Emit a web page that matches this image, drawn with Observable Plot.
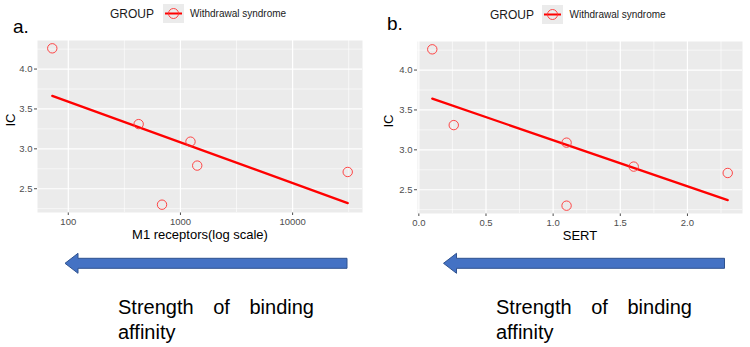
<!DOCTYPE html>
<html>
<head>
<meta charset="utf-8">
<script src="https://cdn.jsdelivr.net/npm/d3@7"></script>
<script src="https://cdn.jsdelivr.net/npm/@observablehq/plot@0.6"></script>
<style>
  body { margin: 0; background: #fff; font-family: "Liberation Sans", Arial, sans-serif; }
  #page { position: relative; width: 750px; height: 347px; overflow: hidden; background: #fff; }
  .abs { position: absolute; white-space: nowrap; }
  .tag { font-size: 19px; line-height: 19px; color: #000; }
  .gtitle { font-size: 12px; line-height: 12px; color: #1a1a1a; }
  .glabel { font-size: 10px; line-height: 10px; color: #1a1a1a; }
  .caption { font-size: 20px; line-height: 25px; width: 196px; white-space: normal;
             text-align: justify; text-align-last: left; color: #000; }
</style>
</head>
<body>
<div id="page"></div>
<script>
// Interference score (IC) per drug, with its M1 and SERT binding constants
const icValues     = [4.26, 3.31, 3.09, 2.79, 2.30, 2.71];
const m1Affinity   = [72, 424, 1229, 1411, 685, 31000];
const sertAffinity = [0.10, 0.26, 1.10, 1.60, 1.10, 2.30];

const m1Ticks   = [100, 1000, 10000];
const sertTicks = [0, 0.5, 1, 1.5, 2];
const icTicks   = [2.5, 3, 3.5, 4];

const groupTitle = "GROUP";
const groupLabel = "Withdrawal syndrome";
const captionText = "Strength of binding affinity";

const FONT = '"Liberation Sans", Arial, sans-serif';
const page = document.getElementById("page");

// ggplot-style 5% padding around the data range
function expand([lo, hi], f = 0.05) {
  const d = (hi - lo) * f;
  return [lo - d, hi + d];
}

// least-squares fit of y on x
function fit(xs, ys) {
  const mx = d3.mean(xs), my = d3.mean(ys);
  const sxy = d3.sum(xs, (x, i) => (x - mx) * (ys[i] - my));
  const sxx = d3.sum(xs, x => (x - mx) ** 2);
  const b = sxy / sxx;
  return {a: my - b * mx, b};
}

// minor breaks halfway between major breaks (in the scale's own space)
function minorBreaks(ticks, domain, log) {
  const f = log ? Math.log10 : d => d, g = log ? d => 10 ** d : d => d;
  const t = ticks.map(f);
  const step = t[1] - t[0];
  const ext = [t[0] - step, ...t, t[t.length - 1] + step];
  const [lo, hi] = domain.map(f);
  return d3.pairs(ext).map(([p, q]) => (p + q) / 2).filter(v => v >= lo && v <= hi).map(g);
}

const yDomain = expand(d3.extent(icValues));
const yMinor = minorBreaks(icTicks, yDomain, false);

function panel(o) {
  const log = o.type === "log";
  const tx = log ? Math.log10 : d => d;
  const xsT = o.xs.map(tx);
  const xDomain = expand(d3.extent(xsT)).map(log ? d => 10 ** d : d => d);
  const xMinor = minorBreaks(o.xTicks, xDomain, log);
  const rows = icValues.map((ic, i) => ({x: o.xs[i], y: ic}));
  const {a, b} = fit(xsT, icValues);
  const fitRows = d3.extent(o.xs).map(x => ({x, y: a + b * tx(x)}));

  return Plot.plot({
    width: 375,
    height: 250,
    marginTop: o.mt,
    marginBottom: 250 - o.bottom,
    marginLeft: o.ml,
    marginRight: o.mr,
    style: {fontFamily: FONT, fontSize: "9.5px", color: "#4d4d4d", background: "transparent", overflow: "visible"},
    x: {type: o.type, domain: xDomain, ticks: o.xTicks, tickFormat: o.xFormat, tickSize: 3, tickPadding: 3, label: null},
    y: {domain: yDomain, ticks: icTicks, tickFormat: d3.format(".1f"), tickSize: 3, tickPadding: 2, label: null},
    marks: [
      Plot.frame({fill: "#EBEBEB"}),
      Plot.ruleX(xMinor, {stroke: "#fff", strokeWidth: 0.6}),
      Plot.ruleY(yMinor, {stroke: "#fff", strokeWidth: 0.6}),
      Plot.ruleX(o.xTicks, {stroke: "#fff", strokeWidth: 1.2}),
      Plot.ruleY(icTicks, {stroke: "#fff", strokeWidth: 1.2}),
      Plot.line(fitRows, {x: "x", y: "y", stroke: "#ff0000", strokeWidth: 2.3}),
      Plot.dot(rows, {x: "x", y: "y", r: 4.7, stroke: "#ff3333", strokeWidth: 0.9}),
      Plot.text([o.xTitle], {text: d => d, frameAnchor: "bottom", dy: 26.5, fontSize: 13, fill: "#000"}),
      Plot.text(["IC"], {text: d => d, frameAnchor: "left", dx: o.yTitleDx, rotate: -90, fontSize: 13, fill: "#000"})
    ]
  });
}

function place(el, left, top) {
  el.style.position = "absolute";
  el.style.left = left + "px";
  el.style.top = top + "px";
  page.appendChild(el);
  return el;
}

function textDiv(cls, txt, left, top) {
  const d = document.createElement("div");
  d.className = "abs " + cls;
  d.textContent = txt;
  return place(d, left, top);
}

// legend key: grey swatch with the point symbol and the fit line
function legendKey(left, top) {
  const ns = "http://www.w3.org/2000/svg";
  const s = document.createElementNS(ns, "svg");
  s.setAttribute("width", 21);
  s.setAttribute("height", 19);
  s.innerHTML =
    '<rect width="21" height="19" fill="#EBEBEB"/>' +
    '<line x1="2" x2="19" y1="9.5" y2="9.5" stroke="#ff0000" stroke-width="2"/>' +
    '<circle cx="10.5" cy="9.5" r="5" fill="none" stroke="#ff3333" stroke-width="0.9"/>';
  return place(s, left, top);
}

// panel a: M1 receptors on a log axis
place(panel({
  xs: m1Affinity, type: "log", xTicks: m1Ticks, xFormat: d => String(d),
  xTitle: "M1 receptors(log scale)", mt: 40, bottom: 212, ml: 37, mr: 13, yTitleDx: -27
}), 0, 0);

// panel b: SERT on a linear axis
place(panel({
  xs: sertAffinity, type: "linear", xTicks: sertTicks, xFormat: d3.format(".1f"),
  xTitle: "SERT", mt: 41, bottom: 213, ml: 42, mr: 8, yTitleDx: -29
}), 375, 0);

textDiv("tag", "a.", 13, 17);
textDiv("tag", "b.", 387, 14);

textDiv("gtitle", groupTitle, 110, 8);
legendKey(163, 4);
textDiv("glabel", groupLabel, 190, 9);

textDiv("gtitle", groupTitle, 490, 9);
legendKey(542, 5);
textDiv("glabel", groupLabel, 569.5, 10);

// direction arrows under each panel
function arrow(tip, base, end, cy) {
  const pts = [
    [tip, cy], [base, cy - 10], [base, cy - 5], [end, cy - 5],
    [end, cy + 5], [base, cy + 5], [base, cy + 10]
  ];
  return `<polygon points="${pts.map(p => p.join(",")).join(" ")}" fill="#4472C4" stroke="#2F528F" stroke-width="1"/>`;
}
const ns = "http://www.w3.org/2000/svg";
const arrows = document.createElementNS(ns, "svg");
arrows.setAttribute("width", 750);
arrows.setAttribute("height", 347);
arrows.style.pointerEvents = "none";
arrows.innerHTML = arrow(65, 78, 347, 263.3) + arrow(443.5, 456.5, 724.5, 263.3);
place(arrows, 0, 0);

textDiv("caption", captionText, 118, 295);
textDiv("caption", captionText, 496, 295);
</script>
</body>
</html>
